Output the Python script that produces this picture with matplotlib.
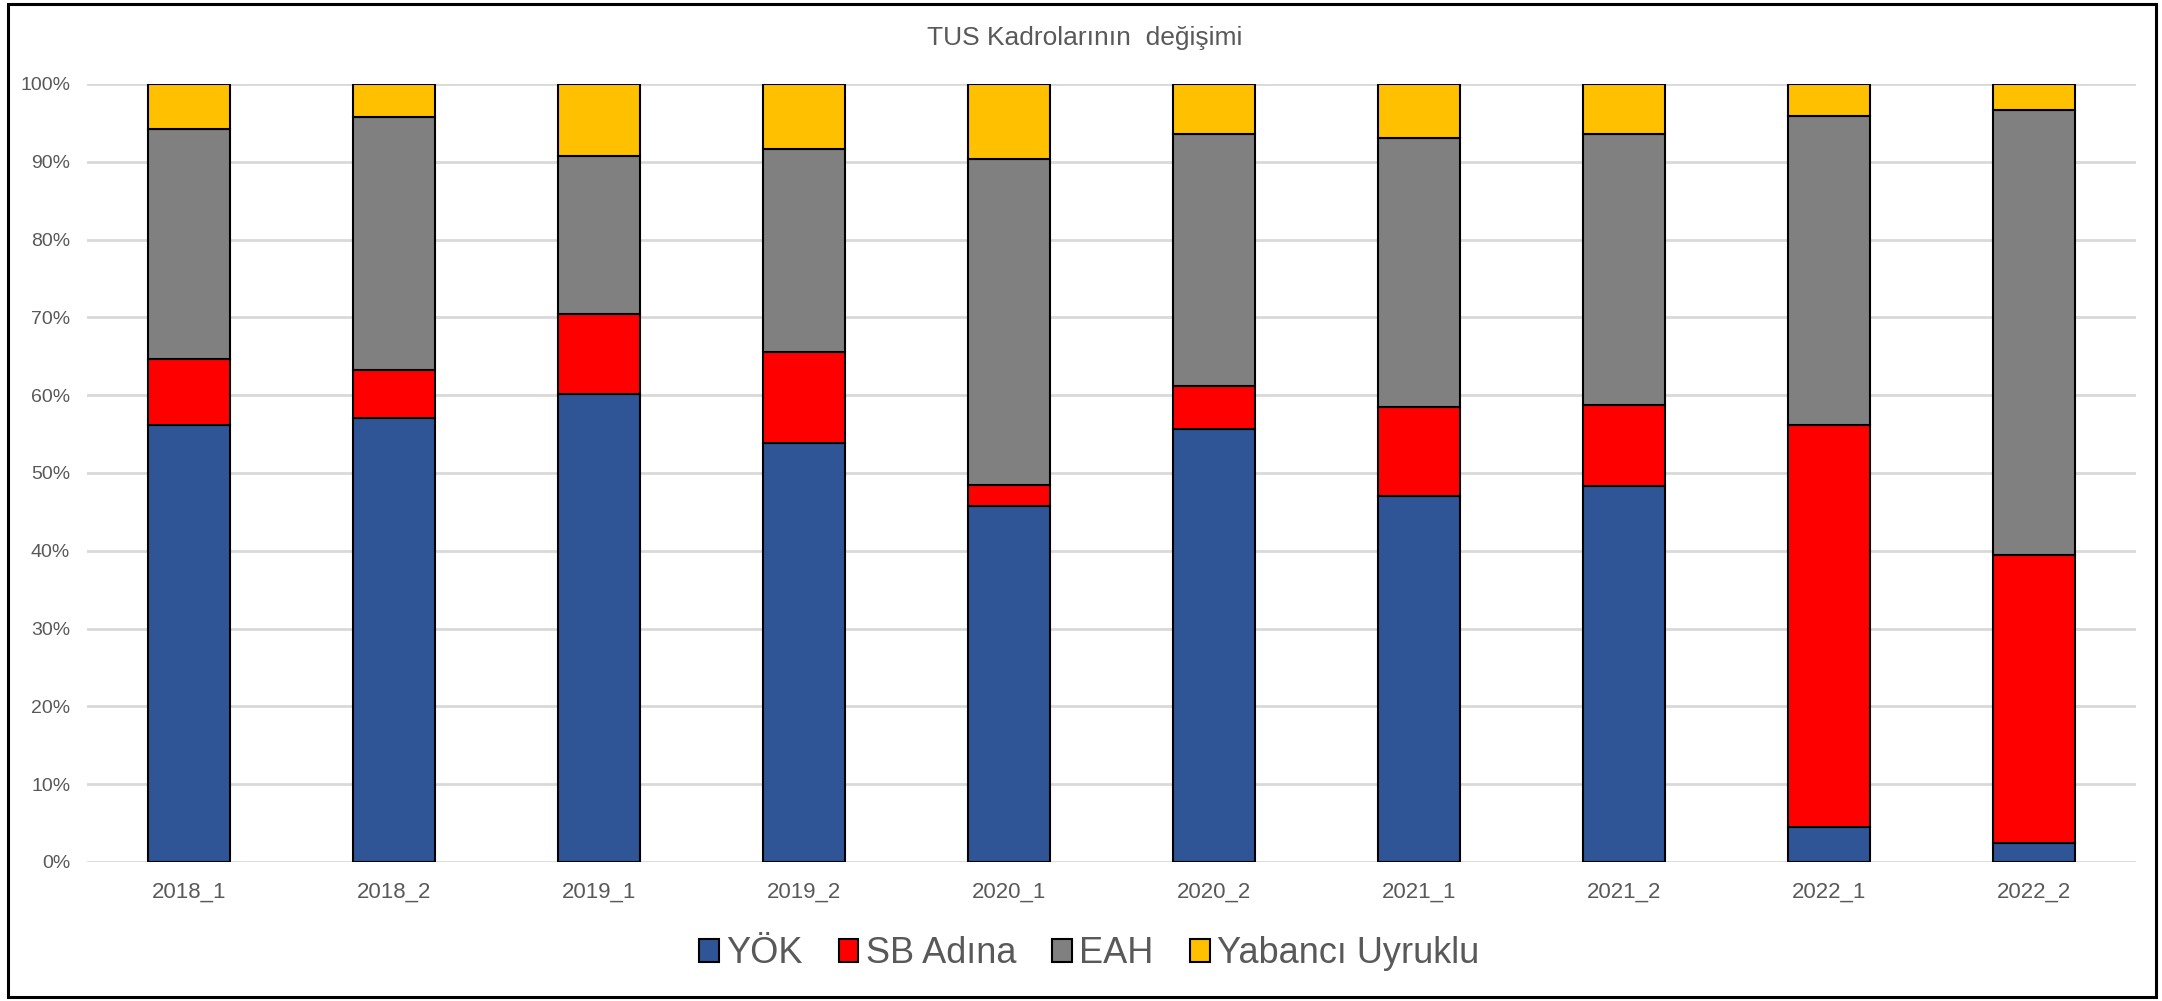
import numpy as np
import matplotlib
matplotlib.use("Agg")
import matplotlib.pyplot as plt
from matplotlib.ticker import PercentFormatter
from matplotlib.patches import Rectangle

plt.rcParams['font.family'] = ['Liberation Sans', 'DejaVu Sans']

# Data (percent shares)
periods = ["2018_1", "2018_2", "2019_1", "2019_2", "2020_1",
           "2020_2", "2021_1", "2021_2", "2022_1", "2022_2"]
yok     = [56.2, 57.1, 60.2, 53.9, 45.8, 55.7, 47.0, 48.3, 4.5, 2.5]
sb      = [8.4, 6.1, 10.2, 11.6, 2.6, 5.5, 11.5, 10.5, 51.7, 36.9]
eah     = [29.6, 32.5, 20.4, 26.1, 42.0, 32.4, 34.5, 34.8, 39.7, 57.3]
yabanci = [5.8, 4.3, 9.2, 8.4, 9.6, 6.4, 7.0, 6.4, 4.1, 3.3]

series_names = ["YÖK", "SB Adına", "EAH", "Yabancı Uyruklu"]
colors = ["#2F5597", "#FF0000", "#808080", "#FFC000"]
text_color = "#595959"

fig = plt.figure(figsize=(21.62, 10.01), dpi=100)
ax = fig.add_axes([0.0402, 0.1389, 0.9478, 0.7772])

x = np.arange(len(periods))
bottom = np.zeros(len(periods))
for vals, name, col in zip([yok, sb, eah, yabanci], series_names, colors):
    vals = np.array(vals)
    ax.bar(x, vals, 0.40, bottom=bottom, color=col, edgecolor="black",
           linewidth=1.5, label=name, zorder=3)
    bottom += vals

ax.set_xlim(-0.5, len(periods) - 0.5)
ax.set_ylim(0, 100)
ax.set_yticks(np.arange(0, 101, 10))
ax.yaxis.set_major_formatter(PercentFormatter(decimals=0))
ax.set_xticks(x)
ax.set_xticklabels(periods)
ax.tick_params(axis="x", length=0, pad=14, labelsize=16, labelcolor=text_color)
ax.tick_params(axis="y", length=0, pad=12, labelsize=14, labelcolor=text_color)
ax.grid(axis="y", color="#D9D9D9", linewidth=2, zorder=0)
for s in ax.spines.values():
    s.set_visible(False)

fig.text(0.5015, 0.962, "TUS Kadrolarının  değişimi", ha="center", va="center",
         fontsize=19, color=text_color)

leg = fig.legend(loc="center", bbox_to_anchor=(0.5037, 0.047), ncol=4,
                 frameon=False, fontsize=26, handlelength=0.55, handleheight=0.6,
                 handletextpad=0.2, columnspacing=1.0, labelcolor=text_color)

# outer frame
fig.patches.append(Rectangle((0.0035, 0.004), 0.9935, 0.992, transform=fig.transFigure,
                             fill=False, edgecolor="black", linewidth=2.2))

fig.savefig("out.png", dpi=100)
